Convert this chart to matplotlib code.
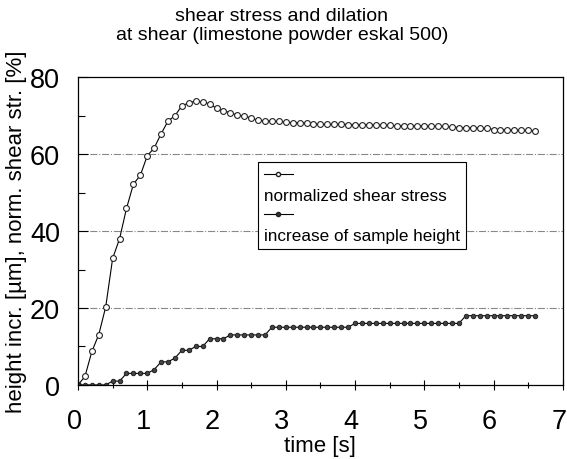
import numpy as np
import matplotlib
matplotlib.use("Agg")
import matplotlib.pyplot as plt
from matplotlib.lines import Line2D
from matplotlib.transforms import ScaledTranslation

plt.rcParams['font.family'] = ['Liberation Sans', 'DejaVu Sans']

# time axis, one sample every 0.1 s
time = np.round(np.arange(67) * 0.1, 1)

# normalized shear stress [%]
shear = [0.0, 2.2, 8.7, 13.1, 20.3, 32.9, 38.0, 45.9, 52.2, 54.5,
         59.6, 61.6, 65.3, 68.6, 70.0, 72.6, 73.3, 73.8, 73.5, 73.1,
         71.9, 71.2, 70.8, 70.1, 69.9, 69.4, 68.8, 68.7, 68.6, 68.5,
         68.3, 68.2, 68.2, 68.1, 67.9, 67.8, 67.8, 67.8, 67.8, 67.7,
         67.7, 67.7, 67.6, 67.6, 67.5, 67.5, 67.4, 67.4, 67.4, 67.4,
         67.3, 67.3, 67.2, 67.2, 67.1, 66.9, 66.9, 66.8, 66.8, 66.7,
         66.4, 66.4, 66.3, 66.3, 66.2, 66.2, 66.0]

# increase of sample height [um]
height = [0, 0, 0, 0, 0, 1, 1, 3, 3, 3,
          3, 4, 6, 6, 7, 9, 9, 10, 10, 12,
          12, 12, 13, 13, 13, 13, 13, 13, 15, 15,
          15, 15, 15, 15, 15, 15, 15, 15, 15, 15,
          16, 16, 16, 16, 16, 16, 16, 16, 16, 16,
          16, 16, 16, 16, 16, 16, 18, 18, 18, 18,
          18, 18, 18, 18, 18, 18, 18]

labels = ['normalized shear stress', 'increase of sample height']

fig = plt.figure(figsize=(5.67, 4.6), dpi=100)
ax = fig.add_axes([0.1376, 0.161, 0.855, 0.669])

l1, = ax.plot(time, shear, color='black', lw=0.8, marker='o', ms=4.2,
              mfc='white', mec='#222222', mew=0.8)
l2, = ax.plot(time, height, color='black', lw=0.8, marker='o', ms=3.2,
              mfc='#444444', mec='#222222', mew=0.7)

ax.set_xlim(0, 7)
ax.set_ylim(0, 80)
ax.set_xticks(range(0, 8))
ax.set_xticks(np.arange(0, 7.01, 0.5), minor=True)
ax.set_yticks(range(0, 81, 20))
ax.set_yticks(range(0, 81, 10), minor=True)
ax.tick_params(which='both', direction='inout', labelsize=19.5, width=0.8)
ax.tick_params(which='major', length=7)
ax.tick_params(which='minor', length=5)
ax.tick_params(axis='y', which='both', direction='in', pad=13)
ax.tick_params(axis='x', which='major', pad=13)

# labels sit a little left of their ticks in the original
shift = ScaledTranslation(-4 / 100, 0, fig.dpi_scale_trans)
for lab in ax.get_xticklabels():
    lab.set_transform(lab.get_transform() + shift)

for v in (20, 40, 60):
    ax.axhline(v, color='#888888', lw=0.8, ls='-.', zorder=0)

for s in ax.spines.values():
    s.set_linewidth(0.9)

ax.set_xlabel('time [s]', fontsize=16, labelpad=1)
ax.set_ylabel('height incr. [µm], norm. shear str. [%]', fontsize=16,
              labelpad=2)

fig.text(0.497, 0.965, 'shear stress and dilation', ha='center',
         va='center', fontsize=14)
fig.text(0.497, 0.922, 'at shear (limestone powder eskal 500)', ha='center',
         va='center', fontsize=14)

blank = Line2D([], [], color='none')
h1 = Line2D([], [], color='black', lw=0.8, marker='o', ms=3, mfc='white',
            mec='#222222')
h2 = Line2D([], [], color='black', lw=0.8, marker='o', ms=3, mfc='#333333',
            mec='#222222')
leg = ax.legend([h1, blank, h2, blank], ['', labels[0], '', labels[1]],
                loc='upper left', bbox_to_anchor=(0.371, 0.726),
                borderaxespad=0, fontsize=12.3, handlelength=1.7,
                handletextpad=-1.7, labelspacing=0.3, borderpad=0.35,
                fancybox=False, edgecolor='black', framealpha=1)
leg.get_frame().set_linewidth(0.8)

fig.savefig('out.png', dpi=100)
